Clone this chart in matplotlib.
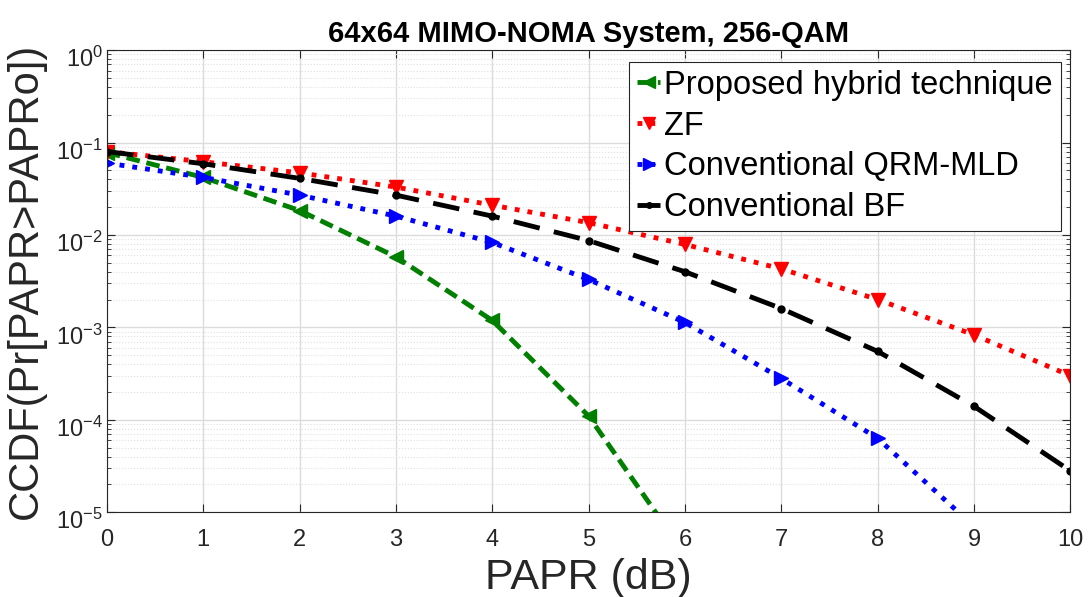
import numpy as np
import matplotlib.pyplot as plt
import matplotlib.transforms as mtransforms
from matplotlib.ticker import LogLocator, NullFormatter

plt.rcParams['font.family'] = ['Liberation Sans', 'DejaVu Sans']

papr = [0, 1, 2, 3, 4, 5, 6, 7, 8, 9, 10]

# (values below 1e-5 are off the axes)
hybrid = [0.078, 0.042, 0.0184, 0.0058, 1.19e-3, 1.1e-4, 3.5e-6]
zf = [0.080, 0.062, 0.047, 0.033, 0.021, 0.0136, 0.0079, 0.0043, 0.0020, 8.3e-4, 3.0e-4]
qrm = [0.060, 0.042, 0.027, 0.016, 0.0083, 3.3e-3, 1.13e-3, 2.8e-4, 6.3e-5, 7e-6]
bf = [0.080, 0.059, 0.041, 0.027, 0.016, 0.0087, 0.0040, 1.6e-3, 5.5e-4, 1.4e-4, 2.8e-5]

fig = plt.figure(figsize=(10.9, 5.97), dpi=100)
ax = fig.add_axes([0.098, 0.142, 0.884, 0.774])

ax.semilogy(papr[:len(hybrid)], hybrid, '--', color='#007f00', marker='<', ms=10, lw=3.5,
            dashes=(2.8, 1.4), label='Proposed hybrid technique')
ax.semilogy(papr, zf, ':', color='#ff0000', marker='v', ms=10, lw=3.5, label='ZF')
ax.semilogy(papr[:len(qrm)], qrm, ':', color='#0000ff', marker='>', ms=10, lw=3.5,
            label='Conventional QRM-MLD')
ax.semilogy(papr, bf, '--', color='black', marker='o', ms=5, lw=3.5, dashes=(5.5, 3),
            label='Conventional BF')

ax.set_xlim(0, 10)
ax.set_ylim(1e-5, 1)
ax.set_xticks(range(0, 11))
ax.yaxis.set_major_locator(LogLocator(base=10, numticks=10))
ax.yaxis.set_minor_locator(LogLocator(base=10, subs=np.arange(2, 10), numticks=20))
ax.yaxis.set_minor_formatter(NullFormatter())

ax.grid(True, which='major', color='#dcdcdc', lw=1)
ax.grid(True, which='minor', axis='y', color='#e0e0e0', lw=0.8, ls=':')
ax.set_axisbelow(True)

ax.tick_params(which='both', direction='in', top=True, right=True, colors='#262626',
               labelsize=17)
ax.tick_params(which='major', length=6)
ax.tick_params(which='minor', length=3)
ax.tick_params(axis='y', pad=3)
ax.tick_params(axis='x', pad=12)
for s in ax.spines.values():
    s.set_color('#262626')

# matlab puts the log labels slightly below the tick
shift = mtransforms.ScaledTranslation(0, -5 / 72, fig.dpi_scale_trans)
for lbl in ax.get_yticklabels():
    lbl.set_transform(lbl.get_transform() + shift)

ax.set_title('64x64 MIMO-NOMA System, 256-QAM', fontsize=21, fontweight='bold', pad=6)
ax.set_xlabel('PAPR (dB)', fontsize=31, color='#262626')
ax.set_ylabel('CCDF(Pr[PAPR>PAPRo])', fontsize=30, color='#262626')
ax.xaxis.set_label_coords(0.5, -0.1)
ax.yaxis.set_label_coords(-0.063, 0.5)

leg = ax.legend(loc='upper right', bbox_to_anchor=(0.99, 0.975), fontsize=23.5,
                frameon=True, fancybox=False, edgecolor='#262626', framealpha=1,
                handlelength=0.7, handletextpad=0.12, borderpad=0.25, labelspacing=0.3,
                borderaxespad=0, markerscale=0.8)
leg.get_frame().set_linewidth(0.8)

fig.savefig('out.png', dpi=100)
